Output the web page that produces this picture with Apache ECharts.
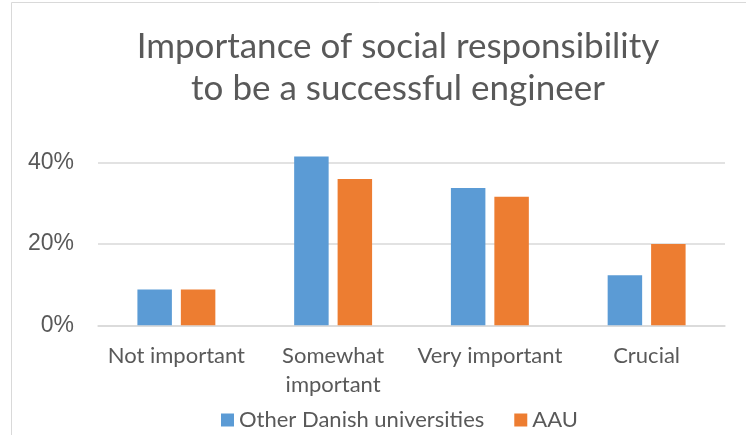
<!DOCTYPE html>
<html>
<head>
<meta charset="utf-8">
<script src="https://cdn.jsdelivr.net/npm/echarts@6/dist/echarts.min.js"></script>
<style>html,body{margin:0;padding:0;background:#fff}#c{width:746px;height:435px}</style>
</head>
<body>
<div id="c"></div>
<script>
var categories = ['Not important', 'Somewhat\nimportant', 'Very important', 'Crucial'];
var otherDanish = [0.088, 0.415, 0.338, 0.123];
var aau = [0.088, 0.360, 0.316, 0.200];
var seriesNames = ['Other Danish universities', 'AAU'];
var titleLines = ['Importance of social responsibility', 'to be a successful engineer'];

var chart = echarts.init(document.getElementById('c'), null, {renderer: 'canvas'});
var txt = '#595959';
var catFont = 'Lato';
chart.setOption({
  animation: false,
  graphic: [
    {type: 'rect', shape: {x: 11.5, y: 2.5, width: 800, height: 500}, style: {fill: 'none', stroke: '#d9d9d9', lineWidth: 1}, silent: true},
    {type: 'text', x: 398, y: 26, style: {text: titleLines.join('\n'), fill: txt, font: '35px Lato', align: 'center', verticalAlign: 'top', lineHeight: 42}}
  ],
  grid: {left: 98, right: 21, top: 162.7, bottom: 109.7, containLabel: false},
  legend: {
    left: 216, top: 404, itemWidth: 13, itemHeight: 13, itemGap: 30,
    icon: 'rect',
    textStyle: {color: txt, fontSize: 22, fontFamily: catFont},
    data: seriesNames
  },
  xAxis: {
    type: 'category', data: categories,
    axisLine: {show: true, lineStyle: {color: '#d9d9d9', width: 1.5}},
    axisTick: {show: false},
    axisLabel: {color: txt, fontSize: 22, fontFamily: catFont, margin: 16, lineHeight: 29, interval: 0}
  },
  yAxis: {
    type: 'value', min: 0, max: 0.4, interval: 0.2,
    axisLine: {show: false}, axisTick: {show: false},
    splitLine: {lineStyle: {color: '#d9d9d9', width: 1.5}},
    axisLabel: {color: txt, fontSize: 23, fontFamily: 'Liberation Sans', margin: 24,
      formatter: function (v) { return Math.round(v * 100) + '%'; }}
  },
  series: [
    {name: seriesNames[0], type: 'bar', data: otherDanish, barWidth: '22%', barGap: '26%', clip: false,
      itemStyle: {color: '#5B9BD5'}},
    {name: seriesNames[1], type: 'bar', data: aau, barWidth: '22%', barGap: '26%', clip: false,
      itemStyle: {color: '#ED7D31'}}
  ]
});
</script>
</body>
</html>
